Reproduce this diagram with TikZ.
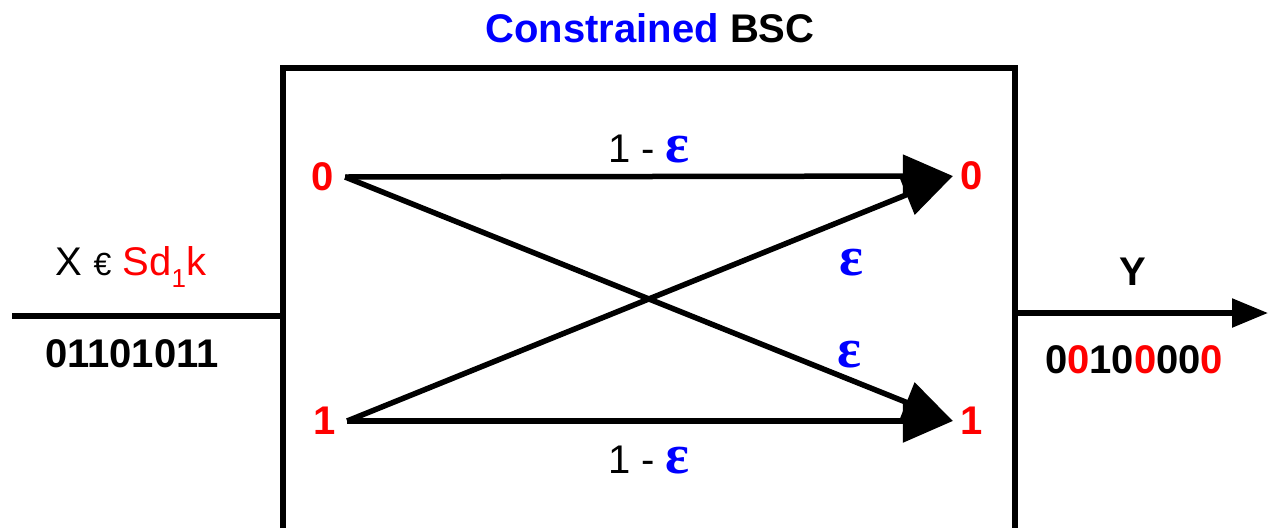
\documentclass[tikz,border=0pt]{standalone}
\usepackage{fontspec}
\setmainfont{Liberation Sans}
\newfontfamily\epsfont{Liberation Serif}
\usetikzlibrary{arrows.meta}
\definecolor{pureblue}{RGB}{0,0,255}
\definecolor{purered}{RGB}{255,0,0}
\begin{document}
\begin{tikzpicture}[x=1pt,y=-1pt,
  wire/.style={line width=5.5pt},
  bigarrow/.style={wire,-{Triangle[length=50pt,width=42pt]}},
  outarrow/.style={wire,-{Triangle[length=36pt,width=28pt]}},
  bit/.style={font=\fontsize{40}{48}\selectfont\bfseries,text=purered,inner sep=0pt},
  lbl/.style={font=\fontsize{40}{48}\selectfont,inner sep=0pt,anchor=base},
  blbl/.style={font=\fontsize{40}{48}\selectfont\bfseries,inner sep=0pt,anchor=base},
  eps/.style={font=\epsfont\bfseries\fontsize{56}{60}\selectfont,text=pureblue,inner sep=0pt,anchor=base}]
\useasboundingbox (0,0) rectangle (1268,528);
% box (open at bottom)
\coordinate (bl) at (283,528);
\coordinate (tl) at (283,68);
\coordinate (tr) at (1015,68);
\coordinate (br) at (1015,528);
\draw[wire,line join=miter] (bl) -- (tl) -- (tr) -- (br);
% input / output
\coordinate (inS) at (12,316);
\coordinate (inE) at (283,316);
\coordinate (outS) at (1015,313);
\coordinate (outE) at (1268,313);
\draw[wire] (inS) -- (inE);
\draw[outarrow] (outS) -- (outE);
% title
\node[blbl] (title) at (650,42) {\textcolor{pureblue}{Constrained} BSC};
% channel bits
\node[bit,outer xsep=11pt] (i0) at (323,177) {0};
\node[bit,outer xsep=11pt] (i1) at (325,421) {1};
\node[bit,outer xsep=8pt] (o0) at (972,176) {0};
\node[bit,outer xsep=8pt] (o1) at (972,421) {1};
\draw[bigarrow] (i0.east) -- (o0.west);
\draw[bigarrow] (i1.east) -- (o1.west);
\draw[bigarrow] (i0.east) -- (o1.west);
\draw[bigarrow] (i1.east) -- (o0.west);
% labels
\node[lbl] (p00) at (649,162) {1 - {\epsfont\bfseries\fontsize{56}{60}\selectfont\textcolor{pureblue}{ε}}};
\node[lbl] (p11) at (649,473) {1 - {\epsfont\bfseries\fontsize{56}{60}\selectfont\textcolor{pureblue}{ε}}};
\node[eps] (p10) at (851,275) {ε};
\node[eps] (p01) at (849,367) {ε};
% input texts
\node[lbl] (xlab) at (131,275) {X {\fontsize{32}{36}\selectfont €} \textcolor{purered}{Sd{\fontsize{26}{30}\selectfont\raisebox{-12pt}{1}}k}};
\node[blbl] (xseq) at (132,367) {01101011};
% output texts
\node[blbl] (ylab) at (1133,285) {Y};
\node[blbl] (yseq) at (1134,373) {0\textcolor{purered}{0}10\textcolor{purered}{0}00\textcolor{purered}{0}};
\end{tikzpicture}
\end{document}
